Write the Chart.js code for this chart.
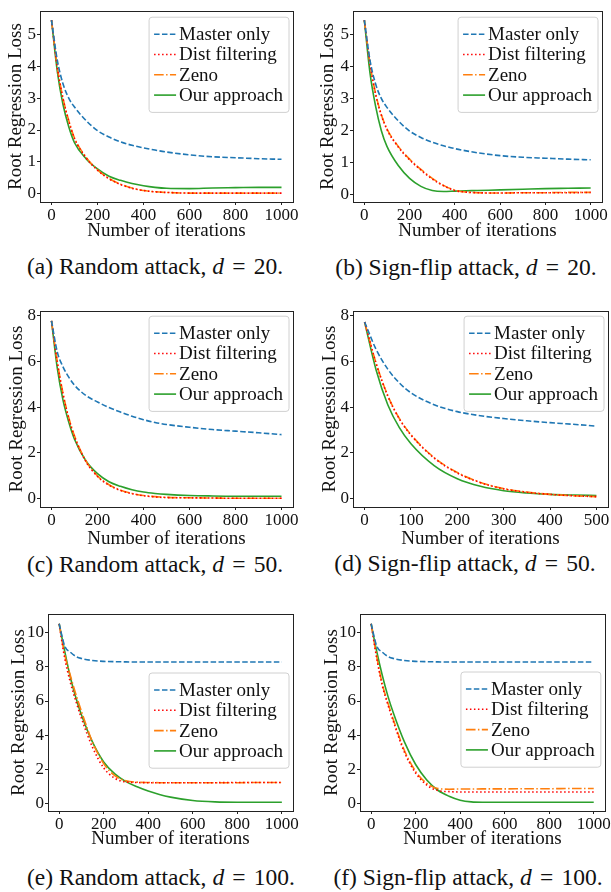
<!DOCTYPE html>
<html>
<head>
<meta charset="utf-8">
<script src="https://cdn.jsdelivr.net/npm/chart.js@4.4.1/dist/chart.umd.min.js"></script>
<style>
  body { margin: 0; background: #fff; width: 611px; height: 892px; position: relative; overflow: hidden; }
  canvas { position: absolute; }
  .cap { position: absolute; font-family: "Liberation Serif", serif; font-size: 23.5px; line-height: 27px; color: #111; white-space: nowrap; transform: translateX(-50%); }
  .cap .eq { margin: 0 0.1em; }
</style>
</head>
<body>
<canvas id="ca" width="305" height="250" style="left:0;top:0"></canvas>
<canvas id="cb" width="306" height="250" style="left:305px;top:0"></canvas>
<canvas id="cc" width="305" height="250" style="left:0;top:300px"></canvas>
<canvas id="cd" width="306" height="250" style="left:305px;top:300px"></canvas>
<canvas id="ce" width="305" height="250" style="left:0;top:600px"></canvas>
<canvas id="cf" width="306" height="250" style="left:305px;top:600px"></canvas>

<div class="cap" style="left:155px;top:253px">(a) Random attack, <i>d</i> <span class="eq">=</span> 20.</div>
<div class="cap" style="left:466px;top:254px">(b) Sign-flip attack, <i>d</i> <span class="eq">=</span> 20.</div>
<div class="cap" style="left:155px;top:551px">(c) Random attack, <i>d</i> <span class="eq">=</span> 50.</div>
<div class="cap" style="left:465px;top:550px">(d) Sign-flip attack, <i>d</i> <span class="eq">=</span> 50.</div>
<div class="cap" style="left:161px;top:864px">(e) Random attack, <i>d</i> <span class="eq">=</span> 100.</div>
<div class="cap" style="left:468px;top:864px">(f) Sign-flip attack, <i>d</i> <span class="eq">=</span> 100.</div>

<script>
// iterations
const itersLong = [0, 25, 50, 75, 100, 150, 200, 250, 300, 350, 400, 450, 500, 600, 700, 800, 900, 1000];
const itersShort = [0, 25, 50, 75, 100, 150, 200, 250, 300, 350, 400, 450, 500];

const seriesNames = ['Master only', 'Dist filtering', 'Zeno', 'Our approach'];

// (a) random attack, d = 20
const aMaster = [5.45, 4.2, 3.45, 3.0, 2.72, 2.3, 1.98, 1.78, 1.63, 1.52, 1.44, 1.37, 1.31, 1.22, 1.16, 1.13, 1.1, 1.08];
const aDist   = [5.45, 3.98, 2.98, 2.28, 1.73, 1.13, 0.74, 0.47, 0.29, 0.17, 0.1, 0.06, 0.04, 0.02, 0.02, 0.02, 0.02, 0.02];
const aZeno   = [5.45, 4.0, 3.0, 2.3, 1.75, 1.15, 0.75, 0.48, 0.3, 0.18, 0.1, 0.06, 0.04, 0.02, 0.02, 0.02, 0.02, 0.02];
const aOurs   = [5.45, 3.85, 2.8, 2.1, 1.6, 1.1, 0.78, 0.55, 0.42, 0.32, 0.25, 0.2, 0.17, 0.16, 0.18, 0.19, 0.2, 0.2];

// (b) sign-flip attack, d = 20
const bMaster = [5.45, 4.2, 3.45, 3.0, 2.72, 2.3, 1.98, 1.78, 1.63, 1.52, 1.43, 1.36, 1.3, 1.21, 1.16, 1.13, 1.1, 1.08];
const bDist   = [5.45, 4.08, 3.12, 2.48, 2.03, 1.48, 1.08, 0.76, 0.48, 0.27, 0.12, 0.07, 0.05, 0.04, 0.05, 0.05, 0.05, 0.06];
const bZeno   = [5.45, 4.1, 3.15, 2.5, 2.05, 1.5, 1.1, 0.78, 0.5, 0.28, 0.13, 0.07, 0.05, 0.04, 0.05, 0.05, 0.06, 0.06];
const bOurs   = [5.45, 3.8, 2.75, 2.0, 1.5, 0.9, 0.5, 0.25, 0.12, 0.09, 0.1, 0.11, 0.12, 0.14, 0.16, 0.18, 0.19, 0.2];

// (c) random attack, d = 50
const cMaster = [7.75, 6.4, 5.75, 5.3, 4.95, 4.5, 4.22, 3.98, 3.78, 3.6, 3.45, 3.33, 3.24, 3.12, 3.02, 2.95, 2.88, 2.8];
const cDist   = [7.75, 5.95, 4.55, 3.5, 2.7, 1.62, 0.98, 0.6, 0.37, 0.23, 0.14, 0.09, 0.06, 0.05, 0.04, 0.03, 0.03, 0.03];
const cZeno   = [7.75, 6.0, 4.6, 3.55, 2.75, 1.65, 1.0, 0.62, 0.38, 0.24, 0.15, 0.1, 0.07, 0.05, 0.04, 0.03, 0.03, 0.03];
const cOurs   = [7.75, 5.7, 4.3, 3.35, 2.6, 1.65, 1.1, 0.75, 0.55, 0.4, 0.3, 0.24, 0.2, 0.15, 0.13, 0.12, 0.12, 0.12];

// (d) sign-flip attack, d = 50 (500 iterations)
const dMaster = [7.7, 6.5, 5.65, 5.05, 4.62, 4.1, 3.8, 3.62, 3.5, 3.4, 3.32, 3.25, 3.17];
const dDist   = [7.7, 5.88, 4.48, 3.48, 2.78, 1.78, 1.13, 0.71, 0.44, 0.29, 0.2, 0.14, 0.1];
const dZeno   = [7.7, 5.9, 4.5, 3.5, 2.8, 1.8, 1.15, 0.72, 0.45, 0.3, 0.2, 0.14, 0.1];
const dOurs   = [7.7, 5.6, 4.1, 3.1, 2.4, 1.45, 0.88, 0.55, 0.36, 0.26, 0.2, 0.17, 0.15];

// (e) random attack, d = 100
const eMaster = [10.5, 9.2, 8.85, 8.6, 8.48, 8.36, 8.31, 8.29, 8.28, 8.27, 8.27, 8.27, 8.27, 8.27, 8.27, 8.27, 8.27, 8.27];
const eDist   = [10.5, 8.5, 7.1, 6.0, 5.0, 3.3, 2.1, 1.5, 1.28, 1.25, 1.24, 1.24, 1.24, 1.24, 1.24, 1.25, 1.25, 1.25];
const eZeno   = [10.5, 8.7, 7.5, 6.4, 5.4, 3.6, 2.35, 1.65, 1.35, 1.27, 1.25, 1.24, 1.24, 1.24, 1.24, 1.24, 1.25, 1.25];
const eOurs   = [10.5, 8.9, 7.4, 6.2, 5.2, 3.6, 2.45, 1.75, 1.3, 1.0, 0.75, 0.55, 0.4, 0.2, 0.12, 0.1, 0.1, 0.1];

// (f) sign-flip attack, d = 100
const fMaster = [10.5, 9.2, 8.85, 8.6, 8.48, 8.36, 8.31, 8.29, 8.28, 8.27, 8.27, 8.27, 8.27, 8.27, 8.27, 8.27, 8.27, 8.27];
const fDist   = [10.5, 8.5, 6.9, 5.8, 4.8, 3.0, 1.8, 1.1, 0.78, 0.72, 0.7, 0.7, 0.7, 0.7, 0.7, 0.7, 0.7, 0.7];
const fZeno   = [10.5, 8.6, 7.0, 5.9, 4.9, 3.1, 1.9, 1.2, 0.9, 0.86, 0.87, 0.87, 0.88, 0.88, 0.89, 0.89, 0.9, 0.9];
const fOurs   = [10.5, 8.9, 7.5, 6.3, 5.3, 3.6, 2.3, 1.4, 0.8, 0.45, 0.22, 0.12, 0.1, 0.1, 0.1, 0.1, 0.1, 0.1];

// tick labels
const xTicks1000 = [0, 200, 400, 600, 800, 1000];
const xTicks500 = [0, 100, 200, 300, 400, 500];
const yTicks20 = [0, 1, 2, 3, 4, 5];
const yTicks50 = [0, 2, 4, 6, 8];
const yTicks100 = [0, 2, 4, 6, 8, 10];

const FONT = '"Liberation Serif", "Times New Roman", serif';
const INK = '#111';
const lineStyles = [
  { color: '#1f77b4', dash: [5.5, 2.4] },
  { color: '#ff0000', dash: [1.5, 2.5] },
  { color: '#ff7f0e', dash: [9.6, 2.4, 1.5, 2.4] },
  { color: '#2ca02c', dash: [] }
];

// frame around plot + matplotlib-like legend inside the axes
const boxLegend = {
  id: 'boxLegend',
  afterDatasetsDraw(chart, args, opts) {
    const { ctx, chartArea: a } = chart;
    const sets = chart.data.datasets;
    ctx.save();
    ctx.font = '19px ' + FONT;
    const tw = Math.max(...sets.map(d => ctx.measureText(d.label).width));
    const w = 5 + 22 + 3 + tw + 6;
    const rowH = 20.3;
    const h = sets.length * rowH + 14;
    const x = a.right - 4 - w;
    const y = a.top + opts.top;
    ctx.beginPath();
    ctx.roundRect(x, y, w, h, 3);
    ctx.fillStyle = 'rgba(255,255,255,0.85)';
    ctx.fill();
    ctx.strokeStyle = '#d0d0d0';
    ctx.lineWidth = 1;
    ctx.stroke();
    sets.forEach((d, i) => {
      const cy = y + 17 + i * rowH;
      ctx.beginPath();
      ctx.setLineDash(d.borderDash || []);
      ctx.strokeStyle = d.borderColor;
      ctx.lineWidth = 1.6;
      ctx.moveTo(x + 5, cy);
      ctx.lineTo(x + 27, cy);
      ctx.stroke();
      ctx.setLineDash([]);
      ctx.fillStyle = INK;
      ctx.textBaseline = 'middle';
      ctx.fillText(d.label, x + 30, cy + 1);
    });
    ctx.restore();
  },
  afterDraw(chart) {
    const { ctx, chartArea: a } = chart;
    ctx.save();
    ctx.strokeStyle = '#222';
    ctx.lineWidth = 1;
    ctx.strokeRect(Math.round(a.left) + 0.5, Math.round(a.top) + 0.5, Math.round(a.width), Math.round(a.height));
    ctx.restore();
  }
};

function makeChart(id, xs, vals, p) {
  const datasets = vals.map((v, k) => ({
    label: seriesNames[k],
    data: xs.map((x, i) => ({ x: x, y: v[i] })),
    borderColor: lineStyles[k].color,
    borderDash: lineStyles[k].dash,
    borderWidth: 1.6,
    pointRadius: 0,
    cubicInterpolationMode: 'monotone',
    fill: false
  }));
  new Chart(document.getElementById(id), {
    type: 'line',
    data: { datasets: datasets },
    plugins: [boxLegend],
    options: {
      responsive: false,
      animation: false,
      devicePixelRatio: 1,
      layout: { padding: { left: 0, right: p.padRight, top: p.padTop, bottom: 0 } },
      plugins: {
        legend: { display: false },
        tooltip: { enabled: false },
        boxLegend: { top: p.legendTop }
      },
      scales: {
        x: {
          type: 'linear',
          min: p.xMin, max: p.xMax,
          afterBuildTicks: s => { s.ticks = p.xTicks.map(v => ({ value: v })); },
          afterFit: s => { s.height = p.xH; },
          ticks: { font: { family: FONT, size: 17 }, color: INK, padding: 0, maxRotation: 0, autoSkip: false, callback: v => String(v) },
          grid: { drawOnChartArea: false, tickLength: 3, color: '#222' },
          border: { color: '#222' },
          title: { display: true, text: 'Number of iterations', font: { family: FONT, size: 19 }, color: INK, padding: { top: 0, bottom: p.xTitlePad } }
        },
        y: {
          min: p.yMin, max: p.yMax,
          afterBuildTicks: s => { s.ticks = p.yTicks.map(v => ({ value: v })); },
          afterFit: s => { s.width = p.yW; },
          ticks: { font: { family: FONT, size: 17 }, color: INK, padding: 1, callback: v => String(v) },
          grid: { drawOnChartArea: false, tickLength: 3, color: '#222' },
          border: { color: '#222' },
          title: { display: true, text: 'Root Regression Loss', font: { family: FONT, size: 19 }, color: INK, padding: { top: p.yTitlePad, bottom: 0 } }
        }
      }
    }
  });
}

function drawAll() {
  makeChart('ca', itersLong, [aMaster, aDist, aZeno, aOurs], {
    xMin: -50, xMax: 1050, xTicks: xTicks1000, yMin: -0.26, yMax: 5.73, yTicks: yTicks20,
    yW: 40, xH: 48, padRight: 12, padTop: 4, xTitlePad: 8, yTitlePad: 5, legendTop: 6
  });
  makeChart('cb', itersLong, [bMaster, bDist, bZeno, bOurs], {
    xMin: -50, xMax: 1050, xTicks: xTicks1000, yMin: -0.24, yMax: 5.73, yTicks: yTicks20,
    yW: 48, xH: 48, padRight: 9, padTop: 4, xTitlePad: 8, yTitlePad: 12, legendTop: 6
  });
  makeChart('cc', itersLong, [cMaster, cDist, cZeno, cOurs], {
    xMin: -50, xMax: 1050, xTicks: xTicks1000, yMin: -0.35, yMax: 8.17, yTicks: yTicks50,
    yW: 40, xH: 43, padRight: 12, padTop: 10, xTitlePad: 0, yTitlePad: 6, legendTop: 5
  });
  makeChart('cd', itersShort, [dMaster, dDist, dZeno, dOurs], {
    xMin: -25, xMax: 525, xTicks: xTicks500, yMin: -0.35, yMax: 8.17, yTicks: yTicks50,
    yW: 48, xH: 43, padRight: 3, padTop: 10, xTitlePad: 0, yTitlePad: 14, legendTop: 5
  });
  makeChart('ce', itersLong, [eMaster, eDist, eZeno, eOurs], {
    xMin: -50, xMax: 1050, xTicks: xTicks1000, yMin: -0.41, yMax: 11.07, yTicks: yTicks100,
    yW: 48, xH: 39, padRight: 12, padTop: 14, xTitlePad: 0, yTitlePad: 8, legendTop: 59
  });
  makeChart('cf', itersLong, [fMaster, fDist, fZeno, fOurs], {
    xMin: -50, xMax: 1050, xTicks: xTicks1000, yMin: -0.41, yMax: 11.07, yTicks: yTicks100,
    yW: 55, xH: 39, padRight: 6, padTop: 14, xTitlePad: 0, yTitlePad: 16, legendTop: 58
  });
}

// make sure the serif font is ready before canvas text is drawn
Promise.all([
  document.fonts.load('17px "Liberation Serif"'),
  document.fonts.load('19px "Liberation Serif"')
]).then(drawAll, drawAll);
</script>
</body>
</html>
